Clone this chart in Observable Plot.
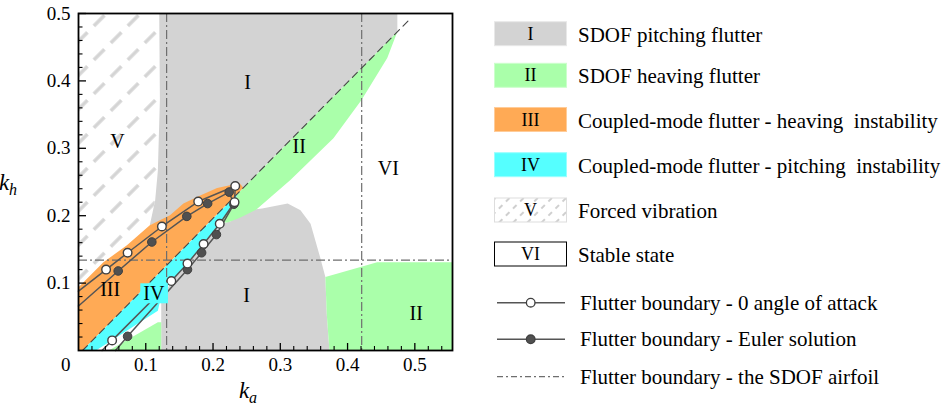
<!DOCTYPE html>
<html><head><meta charset="utf-8">
<script src="https://cdn.jsdelivr.net/npm/d3@7"></script>
<script src="https://cdn.jsdelivr.net/npm/@observablehq/plot@0.6"></script>
<style>
html,body{margin:0;padding:0;background:#fff;}
#wrap{position:relative;width:952px;height:408px;overflow:hidden;font-family:"Liberation Serif",serif;background:#fff;}
#chart{position:absolute;left:0;top:0;}
#legend{position:absolute;left:460px;top:0;}
#chart svg, #chart svg text, #legend text{font-family:"Liberation Serif",serif !important;}
</style></head>
<body>
<svg width="0" height="0" style="position:absolute">
<defs>
<pattern id="hatchV" patternUnits="userSpaceOnUse" width="24" height="24" patternTransform="rotate(-45)">
<line x1="0" y1="12" x2="15" y2="12" stroke="#d4d4d4" stroke-width="3.5"/>
</pattern>
<pattern id="hatchS" patternUnits="userSpaceOnUse" width="10" height="10" patternTransform="rotate(-45)">
<line x1="0" y1="5" x2="5" y2="5" stroke="#cfcfcf" stroke-width="2"/>
</pattern>
</defs></svg>
<div id="wrap"><div id="chart"></div><svg id="legend" width="492" height="408"></svg></div>
<script>
// ---- data (ka, kh) ----
const xTicks = [0.1, 0.2, 0.3, 0.4, 0.5];
const yTicks = [0.1, 0.2, 0.3, 0.4, 0.5];
const xMinor = [0.02,0.04,0.06,0.08,0.12,0.14,0.16,0.18,0.22,0.24,0.26,0.28,0.32,0.34,0.36,0.38,0.42,0.44,0.46,0.48,0.52,0.54];
const yMinor = [0.02,0.04,0.06,0.08,0.12,0.14,0.16,0.18,0.22,0.24,0.26,0.28,0.32,0.34,0.36,0.38,0.42,0.44,0.46,0.48];

const regionV = [[0,0.094],[0,0.5],[0.120,0.5],[0.121,0.372],[0.118,0.267],[0.114,0.223],[0.106,0.186],[0.072,0.156],[0.037,0.131]];
const regionIUpper = [[0.120,0.5],[0.474,0.5],[0.474,0.473],[0.236,0.232],[0.106,0.186],[0.114,0.223],[0.118,0.267],[0.121,0.372]];
const regionILower = [[0.123,0],[0.123,0.074],[0.138,0.1025],[0.162,0.129],[0.186,0.158],[0.210,0.188],[0.225,0.191],[0.250,0.208],[0.273,0.2105],[0.311,0.218],[0.330,0.208],[0.345,0.188],[0.359,0.139],[0.367,0.109],[0.369,0.055],[0.373,0]];
const regionIIUpper = [[0.236,0.232],[0.474,0.473],[0.459,0.434],[0.421,0.372],[0.379,0.315],[0.315,0.253],[0.285,0.227],[0.264,0.209],[0.240,0.197],[0.222,0.190],[0.211,0.190],[0.232,0.220]];
const regionIIRight = [[0.373,0],[0.369,0.055],[0.367,0.109],[0.444,0.131],[0.556,0.131],[0.556,0]];
const regionIILeft = [[0.045,0],[0.118,0.042],[0.123,0.042],[0.123,0]];
const regionIII = [[0,0],[0,0.094],[0.037,0.131],[0.072,0.156],[0.106,0.186],[0.136,0.2006],[0.156,0.218],[0.181,0.230],[0.206,0.241],[0.225,0.245],[0.240,0.2477],[0.245,0.2415],[0.006,0]];
const regionIV = [[0.006,0],[0.236,0.232],[0.232,0.220],[0.210,0.188],[0.186,0.158],[0.162,0.129],[0.138,0.1025],[0.124,0.086],[0.118,0.059],[0.026,0]];

const aoa0Line = [[0,0.088],[0.041,0.120],[0.073,0.145],[0.124,0.184],[0.178,0.221],[0.233,0.244],[0.232,0.220],[0.210,0.188],[0.186,0.158],[0.162,0.129],[0.138,0.103],[0.050,0.015],[0.035,0]];
const aoa0Points = [[0.041,0.120],[0.073,0.145],[0.124,0.184],[0.178,0.221],[0.233,0.244],[0.232,0.220],[0.210,0.188],[0.186,0.158],[0.162,0.129],[0.138,0.103],[0.050,0.015]];
const eulerLine = [[0,0.066],[0.059,0.118],[0.109,0.161],[0.161,0.199],[0.192,0.218],[0.224,0.235],[0.231,0.217],[0.205,0.172],[0.183,0.145],[0.162,0.120],[0.073,0.021],[0.055,0]];
const eulerPoints = [[0.059,0.118],[0.109,0.161],[0.161,0.199],[0.192,0.218],[0.224,0.235],[0.231,0.217],[0.205,0.172],[0.183,0.145],[0.162,0.120],[0.073,0.021]];

const sdofKa = [0.131, 0.421];
const sdofKh = [0.134];
const sdofDiag = [[0.006,0],[0.493,0.492]];

const regionLabels = [
  {t:"I", ka:0.2515, kh:0.397}, {t:"I", ka:0.250, kh:0.082},
  {t:"II", ka:0.328, kh:0.302}, {t:"II", ka:0.502, kh:0.055},
  {t:"III", ka:0.047, kh:0.090}, {t:"IV", ka:0.112, kh:0.084},
  {t:"V", ka:0.058, kh:0.3095}, {t:"VI", ka:0.4606, kh:0.270}
];

const legendAreas = [
  {num:"I", label:"SDOF pitching flutter", fill:"#d3d3d3", stroke:"#e8e8e8"},
  {num:"II", label:"SDOF heaving flutter", fill:"#aaffaa", stroke:"#ccffcc"},
  {num:"III", label:"Coupled-mode flutter - heaving  instability", fill:"#ffaa55", stroke:"#ffcc99"},
  {num:"IV", label:"Coupled-mode flutter - pitching  instability", fill:"#55ffff", stroke:"#99ffff"},
  {num:"V", label:"Forced vibration", fill:"url(#hatchS)", stroke:"#dddddd"},
  {num:"VI", label:"Stable state", fill:"#ffffff", stroke:"#000000"}
];
const legendLines = [
  {label:"Flutter boundary - 0 angle of attack", kind:"open"},
  {label:"Flutter boundary - Euler solution", kind:"filled"},
  {label:"Flutter boundary - the SDOF airfoil", kind:"dashdot"}
];

// ---- colours ----
const C = {I:"#d3d3d3", II:"#aaffaa", III:"#ffaa55", IV:"#55ffff", line:"#555555", dash:"#6e6e6e"};
const FONT = "Liberation Serif, serif";

const X = d => d[0], Y = d => d[1];
const poly = (data, fill) => Plot.line(data, {x: X, y: Y, fill, stroke: "none"});
const W = 460, H = 408, mL = 78, mR = 8, mT = 13, mB = 58;
const iw = W - mL - mR, ih = H - mT - mB;
const fmt = d => String(d);

const chart = Plot.plot({
  width: W, height: H,
  marginLeft: mL, marginRight: mR, marginTop: mT, marginBottom: mB,
  style: {fontFamily: FONT, fontSize: "19px", background: "#fff", color: "#000"},
  x: {domain: [0, 0.556], axis: null},
  y: {domain: [0, 0.5], axis: null},
  marks: [
    poly(regionV, "url(#hatchV)"),
    poly(regionIUpper, C.I),
    poly(regionILower, C.I),
    poly(regionIIUpper, C.II),
    poly(regionIIRight, C.II),
    poly(regionIILeft, C.II),
    poly(regionIII, C.III),
    poly(regionIV, C.IV),
    Plot.ruleX(sdofKa, {x: d => d, stroke: C.dash, strokeWidth: 1.2, strokeDasharray: "9,3,2,3"}),
    Plot.ruleY(sdofKh, {y: d => d, stroke: C.dash, strokeWidth: 1.2, strokeDasharray: "9,3,2,3"}),
    Plot.line(sdofDiag, {x: X, y: Y, stroke: "#444", strokeWidth: 1.1, strokeDasharray: "7,5"}),
    Plot.line(aoa0Line, {x: X, y: Y, stroke: C.line, strokeWidth: 1.5}),
    Plot.line(eulerLine, {x: X, y: Y, stroke: C.line, strokeWidth: 1.5}),
    Plot.dot(eulerPoints, {x: X, y: Y, r: 4.3, fill: "#505050", stroke: "#404040", strokeWidth: 1}),
    Plot.dot(aoa0Points, {x: X, y: Y, r: 4.3, fill: "#fff", stroke: "#404040", strokeWidth: 1.4}),
    Plot.text(regionLabels, {x: "ka", y: "kh", text: "t", fontSize: 20, fontFamily: FONT, fill: "#000", className: "rlabel"}),
    Plot.ruleX(xTicks, {x: d => d, insetTop: ih - 7, stroke: "#000", strokeWidth: 1.3}),
    Plot.ruleX(xMinor, {x: d => d, insetTop: ih - 4, stroke: "#000", strokeWidth: 1.1}),
    Plot.ruleY(yTicks, {y: d => d, insetRight: iw - 8, stroke: "#000", strokeWidth: 1.3}),
    Plot.ruleY(yMinor, {y: d => d, insetRight: iw - 4.5, stroke: "#000", strokeWidth: 1.1}),
    // tick labels
    Plot.text(xTicks, {x: d => d, y: () => 0, text: fmt, lineAnchor: "top", dy: 7, fontSize: 19, fontFamily: FONT, fill: "#000"}),
    Plot.text(yTicks, {x: () => 0, y: d => d, text: fmt, textAnchor: "end", dx: -8, fontSize: 19, fontFamily: FONT, fill: "#000"}),
    Plot.text([[0, 0]], {x: X, y: Y, text: () => "0", textAnchor: "end", lineAnchor: "top", dx: -8, dy: 7, fontSize: 19, fontFamily: FONT, fill: "#000"}),
    Plot.frame({stroke: "#000", strokeWidth: 1.8})
  ]
});
document.getElementById("chart").appendChild(chart);

const svg = d3.select(chart);
svg.selectAll("text").attr("font-family", FONT);
// cyan box behind "IV"
svg.selectAll("g.rlabel text").each(function() {
  if (this.textContent === "IV") {
    const b = this.getBBox();
    const r = d3.select(this.parentNode).insert("rect", () => this)
      .attr("x", b.x - 3).attr("y", b.y + 1).attr("width", b.width + 6).attr("height", b.height - 2)
      .attr("fill", C.IV);
    const tr = this.getAttribute("transform");
    if (tr) r.attr("transform", tr);
  }
});
// axis titles
const kh = svg.append("text").attr("x", 8).attr("y", 190).attr("font-size", 23).attr("font-style", "italic").attr("font-family", FONT).attr("fill", "#000");
kh.append("tspan").text("k");
kh.append("tspan").attr("font-size", 16).attr("dy", 5).text("h");
const ka = svg.append("text").attr("x", 248).attr("y", 398).attr("font-size", 23).attr("font-style", "italic").attr("font-family", FONT).attr("fill", "#000");
ka.append("tspan").text("k");
ka.append("tspan").attr("font-size", 16).attr("dy", 5).text("a");

// ---- legend ----
const lg = d3.select("#legend").attr("font-family", FONT);
const areaY = [33.7, 75.3, 119.5, 164.7, 210, 254];
const lineY = [302.7, 339.3, 376.7];
legendAreas.forEach((d, i) => {
  const cy = areaY[i];
  lg.append("rect").attr("x", 34.5).attr("y", cy - 12).attr("width", 72).attr("height", 24)
    .attr("fill", d.fill).attr("stroke", d.stroke).attr("stroke-width", 1);
  lg.append("text").attr("x", 70.5).attr("y", cy + 6).attr("text-anchor", "middle").attr("font-size", 18).text(d.num);
  lg.append("text").attr("x", 118).attr("y", cy + 8).attr("font-size", 21).style("white-space", "pre").text(d.label);
});
legendLines.forEach((d, i) => {
  const cy = lineY[i];
  if (d.kind === "dashdot") {
    lg.append("line").attr("x1", 37).attr("x2", 105).attr("y1", cy).attr("y2", cy)
      .attr("stroke", C.dash).attr("stroke-width", 1.2).attr("stroke-dasharray", "6,3,2,3");
  } else {
    lg.append("line").attr("x1", 37).attr("x2", 105).attr("y1", cy).attr("y2", cy)
      .attr("stroke", C.line).attr("stroke-width", 1.5);
    lg.append("circle").attr("cx", 70.7).attr("cy", cy).attr("r", 4.3)
      .attr("fill", d.kind === "open" ? "#fff" : "#505050").attr("stroke", "#404040").attr("stroke-width", 1.3);
  }
  lg.append("text").attr("x", 120).attr("y", cy + 7).attr("font-size", 21).style("white-space", "pre").text(d.label);
});
</script>
</body></html>
